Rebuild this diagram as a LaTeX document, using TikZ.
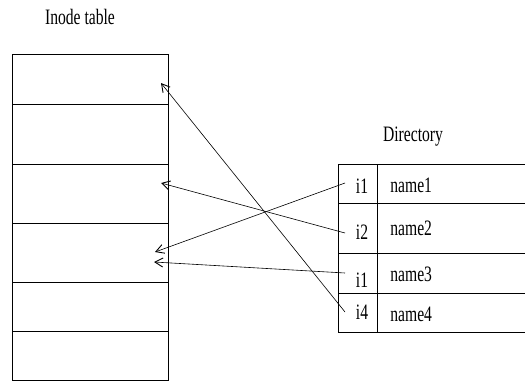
\documentclass[tikz,border=0pt]{standalone}
\usepackage{fontspec}
\setmainfont{Liberation Serif}[FakeStretch=0.71]
\usetikzlibrary{arrows.meta}
\begin{document}
\begin{tikzpicture}[x=1pt,y=-1pt,line width=0.8pt,
  lbl/.style={font=\fontsize{22}{26}\selectfont,inner sep=0pt},
  cell/.style={draw,anchor=north west,minimum width=156pt,inner sep=0pt},
  arr/.style={-{Straight Barb[length=8pt,width=9pt,line width=0.9pt]},line width=0.6pt}]
\useasboundingbox (0,0) rectangle (525,381);
% Inode table
\node[lbl] (title) at (80,17) {Inode table};
\node[cell,minimum height=50pt] (r1) at (12,54) {};
\node[cell,minimum height=60pt] (r2) at (12,104) {};
\node[cell,minimum height=59pt] (r3) at (12,164) {};
\node[cell,minimum height=59pt] (r4) at (12,223) {};
\node[cell,minimum height=49pt] (r5) at (12,282) {};
\node[cell,minimum height=49pt] (r6) at (12,331) {};
% Directory
\node[lbl] (dir) at (413,137) {Directory};
\foreach \yy in {164,203,253,293,332} \draw (338,\yy) -- (525,\yy);
\draw (338,164) -- (338,332);
\draw (377,164) -- (377,332);
\node[lbl] (i1) at (362,186) {i1};
\node[lbl] (i2) at (362,232) {i2};
\node[lbl] (i3) at (362,280) {i1};
\node[lbl] (i4) at (362,312) {i4};
\node[lbl,anchor=west] (n1) at (390,185) {name1};
\node[lbl,anchor=west] (n2) at (390,228) {name2};
\node[lbl,anchor=west] (n3) at (390,274) {name3};
\node[lbl,anchor=west] (n4) at (390,314) {name4};
% arrows
\coordinate (s1) at (345,183);
\coordinate (s2) at (345,233);
\coordinate (s3) at (345,273);
\coordinate (s4) at (345,312);
\coordinate (t1) at (155,252);
\coordinate (t2) at (161,183);
\coordinate (t3) at (154,262);
\coordinate (t4) at (161,83);
\draw[arr] (s1) -- (t1);
\draw[arr] (s2) -- (t2);
\draw[arr] (s3) -- (t3);
\draw[arr] (s4) -- (t4);
\end{tikzpicture}
\end{document}
